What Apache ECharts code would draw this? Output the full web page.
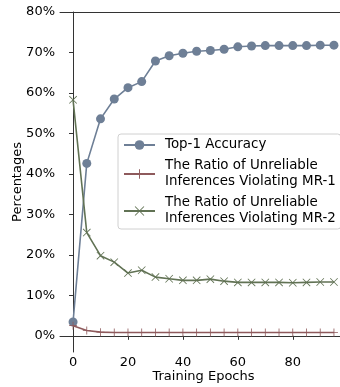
<!DOCTYPE html>
<html><head><meta charset="utf-8">
<script src="https://cdn.jsdelivr.net/npm/echarts@6/dist/echarts.min.js"></script>
<style>html,body{margin:0;padding:0;background:#fff}#c{width:340px;height:387px}</style>
</head><body><div id="c"></div>
<script>
const epochs = [0,5,10,15,20,25,30,35,40,45,50,55,60,65,70,75,80,85,90,95];
const top1 = [3.4,42.6,53.6,58.5,61.3,62.8,67.9,69.2,69.8,70.3,70.5,70.8,71.4,71.6,71.7,71.7,71.7,71.7,71.8,71.8];
const mr1 = [2.5,1.3,0.9,0.8,0.8,0.8,0.8,0.8,0.8,0.8,0.8,0.8,0.8,0.8,0.8,0.8,0.8,0.8,0.8,0.8];
const mr2 = [58.3,25.5,19.8,18.2,15.5,16.2,14.5,14.1,13.7,13.7,14.0,13.5,13.2,13.2,13.2,13.2,13.1,13.2,13.3,13.3];
const xTicks = [0,20,40,60,80];
const yTicks = [0,10,20,30,40,50,60,70,80];
const names = ['Top-1 Accuracy','The Ratio of Unreliable\nInferences Violating MR-1','The Ratio of Unreliable\nInferences Violating MR-2'];
const colors = ['#6e7f96','#8e5a5c','#617254'];

const plusPath = 'path://M4.5,0H5.5V10H4.5Z M0,4.5H10V5.5H0Z';
const xPath = 'path://M0,0.7L0.7,0L10,9.3L9.3,10Z M9.3,0L10,0.7L0.7,10L0,9.3Z';
const F = 'DejaVu Sans';
const pairs = a => epochs.map((e,i)=>[e,a[i]]);
function mk(i, data, symbol, size){
  return {name:names[i], type:'line', data:pairs(data), symbol:symbol, symbolSize:size, symbolKeepAspect:true,
    showAllSymbol:true, lineStyle:{color:colors[i], width:1.6}, itemStyle:{color:colors[i]}, z:2+i};
}
const chart = echarts.init(document.getElementById('c'), null, {renderer:'canvas'});
chart.setOption({
  animation:false,
  grid:{left:60, right:-7, top:12, bottom:35, outerBoundsMode:'none', containLabel:false},
  legend:{orient:'vertical', left:118, top:134, padding:[3,5,2,5], itemGap:5, itemWidth:31, itemHeight:12,
    backgroundColor:'rgba(255,255,255,0.85)', borderColor:'#d0d0d0', borderWidth:1, borderRadius:3,
    textStyle:{fontFamily:F, fontSize:13.4, lineHeight:16, color:'#000', padding:[0,0,0,5]}, data:names},
  xAxis:[{type:'value', min:-4.75, max:99.75, position:'bottom',
    name:'Training Epochs', nameLocation:'middle', nameGap:18, nameMoveOverlap:false, nameTextStyle:{fontFamily:F, fontSize:13, color:'#000'},
    axisLine:{show:true, lineStyle:{color:'#333', width:1}},
    axisTick:{show:true, length:4, lineStyle:{color:'#333'}, customValues:xTicks},
    axisLabel:{fontFamily:F, fontSize:13, color:'#000', margin:4, customValues:xTicks},
    splitLine:{show:false}},
   {type:'value', min:-4.75, max:99.75, position:'top', axisLine:{show:true, lineStyle:{color:'#333', width:1}},
    axisTick:{show:false}, axisLabel:{show:false}, splitLine:{show:false}}],
  yAxis:{type:'value', min:-4, max:80,
    name:'Percentages', nameLocation:'middle', nameGap:36, nameMoveOverlap:false, nameTextStyle:{fontFamily:F, fontSize:13, color:'#000'},
    axisLine:{show:true, lineStyle:{color:'#333', width:1}},
    axisTick:{show:true, length:4, lineStyle:{color:'#333'}, customValues:yTicks},
    axisLabel:{fontFamily:F, fontSize:13, color:'#000', margin:5, customValues:yTicks, formatter:'{value}%'},
    splitLine:{show:false}},
  series:[mk(0, top1, 'circle', 9), mk(1, mr1, plusPath, 8), mk(2, mr2, xPath, 8)]
});
</script></body></html>
